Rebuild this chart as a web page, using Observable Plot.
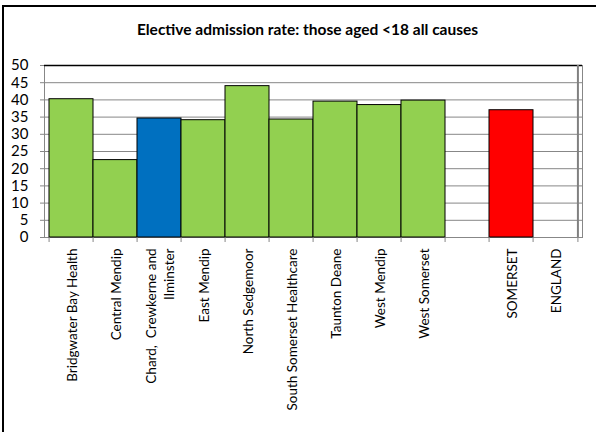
<!DOCTYPE html>
<html>
<head>
<meta charset="utf-8">
<script src="https://cdn.jsdelivr.net/npm/d3@7"></script>
<script src="https://cdn.jsdelivr.net/npm/@observablehq/plot@0.6"></script>
<style>
  html, body { margin: 0; padding: 0; background: white; overflow: hidden; }
  #wrap { position: relative; width: 596px; height: 432px; }
  #border { position: absolute; left: 2px; top: 5px; width: 620px; height: 460px;
            border-left: 2px solid black; border-top: 2px solid black; pointer-events: none; }
</style>
</head>
<body>
<div id="wrap"><div id="chart"></div><div id="border"></div></div>
<script>
const title = "Elective admission rate: those aged <18 all causes";
const categories = ["Bridgwater Bay Health", "Central Mendip", "Chard, Crewkerne and Ilminster", "East Mendip", "North Sedgemoor", "South Somerset Healthcare", "Taunton Deane", "West Mendip", "West Somerset", "", "SOMERSET", "ENGLAND"];
const tickLabels = ["Bridgwater Bay Health", "Central Mendip", "Chard,  Crewkerne and\nIlminster", "East Mendip", "North Sedgemoor", "South Somerset Healthcare", "Taunton Deane", "West Mendip", "West Somerset", "", "SOMERSET", "ENGLAND"];
const values = [40.2, 22.5, 34.6, 34.1, 44.0, 34.3, 39.5, 38.5, 39.8, null, 37.0, null];
const yTicks = [0, 5, 10, 15, 20, 25, 30, 35, 40, 45, 50];
const highlighted = "Chard, Crewkerne and Ilminster";
const total = "SOMERSET";

const data = categories.map((c, i) => ({name: c, value: values[i]})).filter(d => d.value != null);

const W = 596, H = 432, mL = 44, mR = 14, mT = 65, mB = 195;
const bw = (W - mL - mR) / categories.length;
const frameH = H - mT - mB;

const colorOf = d => d.name === highlighted ? "#0070C0" : d.name === total ? "#FF0000" : "#92D050";

const chart = Plot.plot({
  width: W, height: H,
  marginLeft: mL, marginRight: mR, marginTop: mT, marginBottom: mB,
  style: {fontFamily: "Lato, sans-serif", fontSize: "14px", background: "white", color: "black"},
  x: {type: "band", domain: categories, paddingInner: 0, paddingOuter: 0, axis: null, label: null},
  y: {domain: [0, 50], axis: null, label: null},
  marks: [
    Plot.ruleY(yTicks.slice(0, -1), {stroke: "#878787", strokeWidth: 1}),
    Plot.frame({stroke: "#878787"}),
    Plot.ruleY([yTicks[yTicks.length - 1]], {stroke: "black", strokeWidth: 1.3}),
    Plot.ruleX([categories[categories.length - 1]], {dx: bw / 2, stroke: "#808080", strokeWidth: 2}),
    Plot.barY(data, {x: "name", y: "value", fill: colorOf, stroke: "black", strokeWidth: 1}),
    Plot.ruleX(categories, {x: d => d, dx: -bw / 2, insetTop: frameH, insetBottom: -5, stroke: "#878787"}),
    Plot.ruleX([categories[categories.length - 1]], {dx: bw / 2, insetTop: frameH, insetBottom: -5, stroke: "#878787"}),
    Plot.axisY({ticks: yTicks, label: null, tickSize: 4, tickPadding: 12, stroke: "#878787", fill: "black", fontSize: 15}),
    Plot.text(categories, {x: d => d, text: (d, i) => tickLabels[i], frameAnchor: "bottom", dy: 11,
      rotate: -90, textAnchor: "end", lineAnchor: "middle", lineHeight: 1.35, fontSize: 13.5, fill: "black"}),
    Plot.text([title], {frameAnchor: "top", lineAnchor: "middle", dy: -35, dx: -6, fontWeight: "bold", fontSize: 15.5, fill: "black"})
  ]
});
document.getElementById("chart").append(chart);
</script>
</body>
</html>
